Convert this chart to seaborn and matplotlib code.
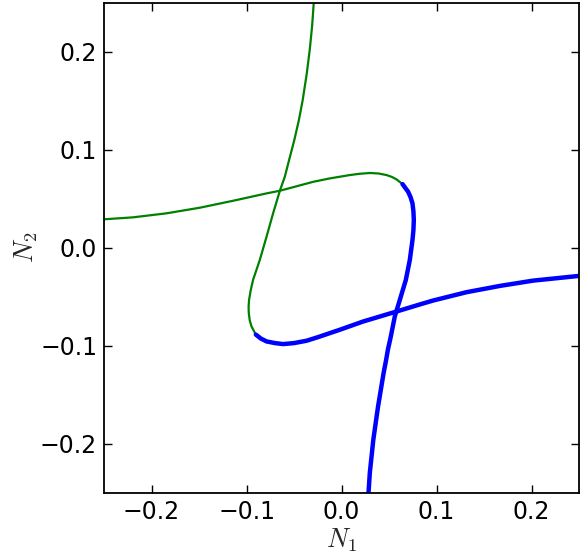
import numpy as np
import matplotlib as mpl
mpl.use("Agg")
import matplotlib.pyplot as plt
import seaborn as sns

# curve A: thin green part, then thick blue part
a_green_n1 = [-0.2500, -0.2194, -0.1842, -0.1492, -0.1141, -0.0790, -0.0649, -0.0299,
              -0.0123, 0.0087, 0.0190, 0.0298, 0.0390, 0.0474, 0.0530, 0.0579, 0.0642]
a_green_n2 = [0.0290, 0.0310, 0.0351, 0.0408, 0.0479, 0.0554, 0.0581, 0.0672,
              0.0707, 0.0741, 0.0754, 0.0762, 0.0757, 0.0741, 0.0722, 0.0697, 0.0649]
a_blue_n1 = [0.0642, 0.0701, 0.0727, 0.0747, 0.0757, 0.0761, 0.0757, 0.0747, 0.0719,
             0.0677, 0.0614, 0.0561, 0.0519, 0.0488, 0.0470, 0.0443, 0.0385, 0.0335,
             0.0298, 0.0284]
a_blue_n2 = [0.0649, 0.0571, 0.0515, 0.0453, 0.0370, 0.0283, 0.0180, 0.0079, -0.0124,
             -0.0328, -0.0531, -0.0700, -0.0904, -0.1040, -0.1141, -0.1277, -0.1616, -0.1955,
             -0.2294, -0.2500]

# curve B: thin green part, then thick blue part
b_green_n1 = [-0.0292, -0.0309, -0.0334, -0.0367, -0.0409, -0.0449, -0.0497, -0.0552,
              -0.0597, -0.0649, -0.0720, -0.0789, -0.0860, -0.0931, -0.0955, -0.0973,
              -0.0978, -0.0976, -0.0966, -0.0947, -0.0902]
b_green_n2 = [0.2500, 0.2265, 0.2021, 0.1767, 0.1503, 0.1300, 0.1097, 0.0893,
              0.0723, 0.0581, 0.0351, 0.0113, -0.0124, -0.0328, -0.0430, -0.0531,
              -0.0600, -0.0666, -0.0740, -0.0803, -0.0885]
b_blue_n1 = [-0.0902, -0.0850, -0.0789, -0.0700, -0.0615, -0.0500, -0.0368, -0.0250,
             -0.0018, 0.0227, 0.0579, 0.0824, 0.0964, 0.1316, 0.1667, 0.2017, 0.2500]
b_blue_n2 = [-0.0885, -0.0925, -0.0955, -0.0972, -0.0982, -0.0972, -0.0948, -0.0912,
             -0.0836, -0.0752, -0.0650, -0.0578, -0.0538, -0.0453, -0.0389, -0.0335, -0.0287]

ticks = [-0.2, -0.1, 0.0, 0.1, 0.2]

sns.set_theme(style="white", rc={
    "xtick.direction": "in", "ytick.direction": "in",
    "xtick.top": True, "ytick.right": True,
    "xtick.bottom": True, "ytick.left": True,
    "xtick.major.size": 6, "ytick.major.size": 6,
    "xtick.major.width": 1.0, "ytick.major.width": 1.0,
    "axes.edgecolor": "black", "axes.linewidth": 1.3,
    "mathtext.fontset": "cm",
})
plt.rcParams["font.family"] = ["DejaVu Sans"]

fig = plt.figure(figsize=(5.81, 5.58), dpi=100)
ax = fig.add_axes([0.179, 0.1165, 0.8176, 0.879])

green, blue = "#008000", "#0000ff"
for xs, ys, c, w in [(a_green_n1, a_green_n2, green, 1.6),
                     (b_green_n1, b_green_n2, green, 1.6),
                     (a_blue_n1, a_blue_n2, blue, 3.2),
                     (b_blue_n1, b_blue_n2, blue, 3.2)]:
    sns.lineplot(x=xs, y=ys, sort=False, estimator=None, color=c, lw=w,
                 solid_joinstyle="round", ax=ax)

ax.set_xlim(-0.25, 0.25)
ax.set_ylim(-0.25, 0.25)
ax.set_xticks(ticks)
ax.set_yticks(ticks)
ax.tick_params(labelsize=17, colors="black", pad=5)
ax.set_xlabel(r"$N_1$", fontsize=19, labelpad=2)
ax.set_ylabel(r"$N_2$", fontsize=19, labelpad=0)

fig.savefig("out.png", dpi=100)
